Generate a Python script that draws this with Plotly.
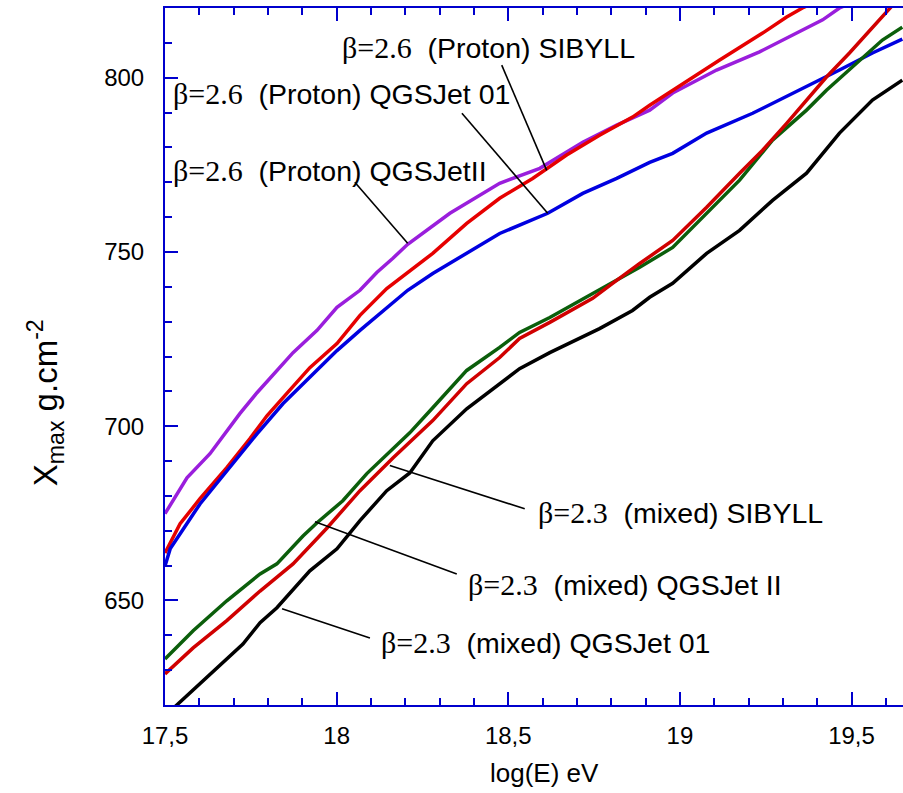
import plotly.graph_objects as go

# Proton, SIBYLL (purple)
p_sib_x = [17.500, 17.564, 17.631, 17.718, 17.768, 17.826, 17.873, 17.943, 18.001, 18.068, 18.117, 18.164,
           18.207, 18.330, 18.475, 18.592, 18.717, 18.816, 18.912, 18.979, 19.107, 19.232, 19.319, 19.416,
           19.465, 19.50]
p_sib_y = [674.9, 685.2, 692.1, 703.6, 709.6, 716.0, 721.1, 727.5, 734.1, 739.0, 744.1, 748.2,
           752.2, 761.1, 769.7, 774.0, 781.5, 786.4, 790.7, 795.6, 802.2, 807.4, 811.7, 816.6,
           820.0, 821.5]

# Proton, QGSJet 01 (red)
p_q01_x = [17.500, 17.544, 17.602, 17.680, 17.747, 17.797, 17.855, 17.922, 18.001, 18.068, 18.146, 18.207,
           18.280, 18.379, 18.475, 18.571, 18.670, 18.766, 18.862, 18.912, 18.979, 19.116, 19.241, 19.311,
           19.357, 19.40]
p_q01_y = [663.6, 672.0, 679.2, 688.1, 696.4, 703.0, 709.4, 716.8, 723.7, 731.8, 739.5, 744.1,
           749.6, 758.2, 765.4, 771.1, 777.8, 783.5, 788.7, 792.1, 796.4, 805.1, 812.8, 817.4,
           820.0, 822.0]

# Proton, QGSJetII (blue)
p_q2_x = [17.500, 17.515, 17.602, 17.680, 17.768, 17.844, 17.922, 18.001, 18.068, 18.146, 18.207, 18.280,
          18.379, 18.475, 18.615, 18.717, 18.816, 18.912, 18.979, 19.078, 19.212, 19.349, 19.465, 19.561,
          19.648]
p_q2_y = [659.9, 664.8, 677.7, 687.2, 697.8, 706.5, 714.0, 721.7, 727.5, 734.1, 739.0, 743.8,
          749.6, 755.3, 761.1, 766.8, 771.1, 775.7, 778.3, 784.1, 789.8, 796.4, 802.2, 807.1,
          811.1]

# Mixed, QGSJet II (green)
m_q2_x = [17.500, 17.582, 17.680, 17.777, 17.826, 17.902, 17.943, 18.018, 18.088, 18.164, 18.213, 18.280,
          18.379, 18.475, 18.533, 18.621, 18.746, 18.816, 18.883, 18.979, 19.078, 19.174, 19.270, 19.369,
          19.427, 19.515, 19.590, 19.648]
m_q2_y = [633.2, 641.3, 649.9, 657.6, 660.5, 668.5, 672.3, 678.6, 686.4, 693.5, 698.1, 705.3,
          716.0, 722.6, 726.9, 731.2, 738.1, 741.8, 745.6, 751.3, 761.1, 770.6, 782.1, 790.7,
          796.4, 804.2, 810.8, 814.5]

# Mixed, SIBYLL (dark red)
m_sib_x = [17.500, 17.582, 17.680, 17.777, 17.873, 17.972, 18.068, 18.164, 18.280, 18.379, 18.475, 18.533,
           18.621, 18.746, 18.804, 18.883, 18.979, 19.078, 19.174, 19.241, 19.311, 19.369, 19.427, 19.494,
           19.561, 19.611, 19.64]
m_sib_y = [628.9, 636.4, 644.2, 652.7, 660.5, 670.8, 681.5, 690.9, 701.6, 712.2, 719.7, 725.2,
           729.8, 736.7, 741.0, 746.7, 753.3, 762.8, 772.6, 779.2, 786.9, 793.6, 800.2, 807.1,
           814.5, 820.0, 823.0]

# Mixed, QGSJet 01 (black)
m_q01_x = [17.529, 17.631, 17.727, 17.777, 17.826, 17.922, 18.001, 18.068, 18.146, 18.213, 18.280, 18.379,
           18.475, 18.533, 18.621, 18.766, 18.862, 18.912, 18.979, 19.078, 19.174, 19.270, 19.369, 19.465,
           19.561, 19.648]
m_q01_y = [619.5, 628.9, 637.5, 643.6, 647.9, 658.5, 664.8, 672.9, 681.5, 686.6, 695.8, 705.0,
           712.2, 716.5, 721.1, 728.0, 733.2, 737.0, 741.0, 749.6, 756.2, 764.8, 772.6, 784.1,
           793.6, 799.3]

x_tickvals = [17.5, 18.0, 18.5, 19.0, 19.5]
x_ticktext = ["17,5", "18", "18,5", "19", "19,5"]
y_tickvals = [650, 700, 750, 800]
y_ticktext = ["650", "700", "750", "800"]

labels = [
    ("β=2.6", "(Proton) SIBYLL"),
    ("β=2.6", "(Proton) QGSJet 01"),
    ("β=2.6", "(Proton) QGSJetII"),
    ("β=2.3", "(mixed) SIBYLL"),
    ("β=2.3", "(mixed) QGSJet II"),
    ("β=2.3", "(mixed) QGSJet 01"),
]

AXC = "#0000CD"
SANS = "Arial, Liberation Sans, sans-serif"
series = [
    (p_sib_x, p_sib_y, "#9A1EDC"),
    (p_q01_x, p_q01_y, "#E60000"),
    (p_q2_x, p_q2_y, "#0000E0"),
    (m_q2_x, m_q2_y, "#0B5E0B"),
    (m_sib_x, m_sib_y, "#D00000"),
    (m_q01_x, m_q01_y, "#000000"),
]

fig = go.Figure()
for xs, ys, c in series:
    fig.add_trace(go.Scatter(x=xs, y=ys, mode="lines", line=dict(color=c, width=3.5),
                             showlegend=False, hoverinfo="skip"))

# label positions (text left/middle) and leader lines (from, to) in data coords
text_pos = [(18.010, 808.8), (17.518, 795.6), (17.518, 773.4),
            (18.580, 675.1), (18.376, 654.7), (18.123, 637.8)]
leaders = [((18.481, 803.6), (18.612, 773.4)),
           ((18.365, 789.8), (18.615, 761.1)),
           ((18.053, 770.0), (18.207, 752.5)),
           ((18.548, 676.3), (18.155, 688.7)),
           ((18.350, 657.6), (17.937, 672.6)),
           ((18.097, 639.2), (17.841, 647.6))]

for (beta, rest), (tx, ty), ((x0, y0), (x1, y1)) in zip(labels, text_pos, leaders):
    fig.add_annotation(
        x=tx, y=ty, xref="x", yref="y", xanchor="left", yanchor="middle", showarrow=False,
        text=f"<span style=\"font-family:'Times New Roman', 'Liberation Serif', serif; font-size:30px\">{beta}</span>&nbsp; {rest}",
        font=dict(family=SANS, size=28.5, color="black"),
    )
    fig.add_shape(type="line", x0=x0, y0=y0, x1=x1, y1=y1, xref="x", yref="y",
                  line=dict(color="black", width=1.6))

# axis titles
fig.add_annotation(x=0.5136, y=-0.0976, xref="paper", yref="paper", showarrow=False,
                   xanchor="center", yanchor="middle", text="log(E) eV",
                   font=dict(family=SANS, size=26, color="black"))
fig.add_annotation(x=-0.1626, y=0.433, xref="paper", yref="paper", showarrow=False,
                   xanchor="center", yanchor="middle", textangle=-90,
                   text="X<sub>max</sub> g.cm<sup>-2</sup>",
                   font=dict(family=SANS, size=33, color="black"))

fig.update_xaxes(
    range=[17.5, 19.65], tickvals=x_tickvals, ticktext=x_ticktext,
    ticks="inside", ticklen=13, tickwidth=2, tickcolor=AXC,
    showline=True, linecolor=AXC, linewidth=2, mirror="ticks",
    showgrid=False, zeroline=False, ticklabelstandoff=8,
    tickfont=dict(family=SANS, size=24, color="black"),
    minor=dict(ticks="inside", ticklen=7, tickwidth=2, tickcolor=AXC, dtick=0.1, tick0=17.5, showgrid=False),
)
fig.update_yaxes(
    range=[620, 820], tickvals=y_tickvals, ticktext=y_ticktext,
    ticks="inside", ticklen=13, tickwidth=2, tickcolor=AXC,
    showline=True, linecolor=AXC, linewidth=2, mirror=False,
    showgrid=False, zeroline=False, ticklabelstandoff=14,
    tickfont=dict(family=SANS, size=24, color="black"),
    minor=dict(ticks="inside", ticklen=7, tickwidth=2, tickcolor=AXC, dtick=10, tick0=620, showgrid=False),
)
fig.update_layout(
    width=903, height=793, autosize=False,
    margin=dict(l=165, r=0, t=8, b=88),
    plot_bgcolor="white", paper_bgcolor="white",
)
fig.write_html("out.html")
